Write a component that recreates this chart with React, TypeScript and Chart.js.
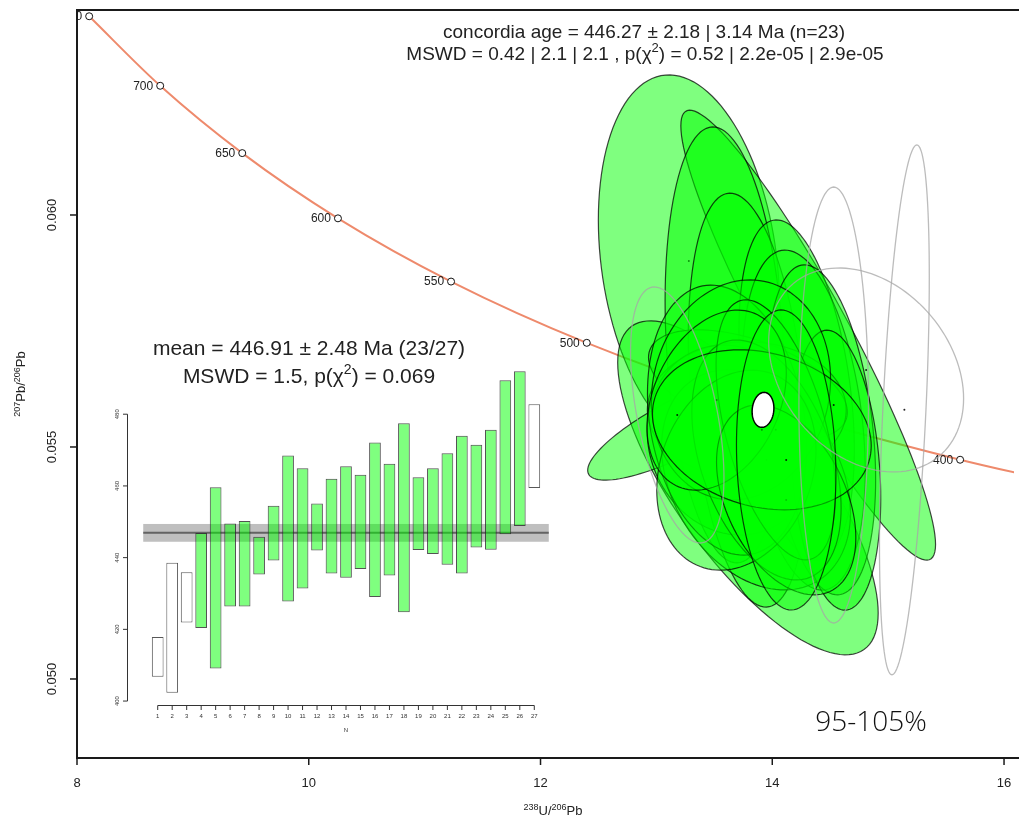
import React, { useEffect, useRef } from 'react';
import { Chart, registerables } from 'chart.js';

Chart.register(...registerables);

const FONT = '"Liberation Sans", Arial, Helvetica, sans-serif';

// ---------- Concordia curve (Tera-Wasserburg) ----------
const concAgesMa = [750, 700, 650, 600, 550, 500, 450, 400, 375];
const concU238Pb206 = [8.105, 8.718, 9.426, 10.252, 11.228, 12.399, 13.831, 15.621, 16.695];
const concPb207Pb206 = [0.064283, 0.062785, 0.061334, 0.059928, 0.058565, 0.057245, 0.055965, 0.054725, 0.054119];
const markerAgesMa = [750, 700, 650, 600, 550, 500, 450, 400];

const xTickValues = [8, 10, 12, 14, 16];
const yTickValues = [0.05, 0.055, 0.06];
const yTickLabels = ['0.050', '0.055', '0.060'];

// ---------- Error ellipses: centre, half-widths, correlation ----------
const ellX = [13.28, 14.31, 13.79, 13.24, 13.59, 13.79, 14.21, 14.27, 14.42, 13.79, 13.78, 13.65, 13.86, 14.55, 13.61, 13.73, 13.95, 13.69, 14.03, 13.52, 14.12, 13.91, 14.12, 15.14, 14.53, 14.81, 13.18];
const ellY = [0.05901, 0.05741, 0.05412, 0.05547, 0.0572, 0.05601, 0.05623, 0.05558, 0.05537, 0.05634, 0.0558, 0.05515, 0.05429, 0.0545, 0.05558, 0.05623, 0.05472, 0.0545, 0.05537, 0.05601, 0.05386, 0.05537, 0.05472, 0.0558, 0.055905, 0.05666, 0.05569];
const ellSX = [0.781, 1.099, 1.124, 0.833, 0.515, 0.515, 0.498, 0.532, 0.472, 0.858, 0.858, 0.73, 0.815, 0.386, 0.687, 0.773, 0.644, 0.687, 0.515, 0.601, 0.601, 0.944, 0.429, 0.215, 0.3, 0.841, 0.403];
const ellSY = [0.004009, 0.004849, 0.003599, 0.001185, 0.004698, 0.004461, 0.003664, 0.003664, 0.003556, 0.001185, 0.001466, 0.002047, 0.002371, 0.003017, 0.002909, 0.002371, 0.002586, 0.002155, 0.002802, 0.00194, 0.002047, 0.001724, 0.003233, 0.005711, 0.004698, 0.002198, 0.002759];
const ellRho = [-0.22, -0.93, -0.75, 0.82, -0.2, -0.3, -0.35, -0.3, -0.3, -0.5, 0.0, -0.1, -0.3, -0.2, -0.2, 0.1, -0.4, 0.2, -0.5, 0.3, -0.4, -0.2, -0.1, 0.5, 0.0, -0.28, -0.49];
const ellAccepted = [1, 1, 1, 1, 1, 1, 1, 1, 1, 1, 1, 1, 1, 1, 1, 1, 1, 1, 1, 1, 1, 1, 1, 0, 0, 0, 0];

// concordia age ellipse
const cAgeX = [13.92];
const cAgeY = [0.0558];
const cAgeSX = [0.094];
const cAgeSY = [0.000377];
const cAgeRho = [0.1];

// ---------- Weighted mean inset ----------
const grainN = [1, 2, 3, 4, 5, 6, 7, 8, 9, 10, 11, 12, 13, 14, 15, 16, 17, 18, 19, 20, 21, 22, 23, 24, 25, 26, 27];
const ageLow = [406.8, 402.3, 421.9, 420.4, 409.1, 426.4, 426.4, 435.3, 439.2, 427.8, 431.4, 442.0, 435.6, 434.4, 436.8, 429.0, 435.0, 424.8, 442.1, 441.0, 438.0, 435.6, 442.8, 442.2, 446.5, 448.8, 459.4];
const ageHigh = [417.9, 438.6, 435.9, 446.9, 459.6, 449.5, 450.2, 445.8, 454.5, 468.5, 464.9, 455.1, 462.0, 465.5, 463.1, 472.1, 466.2, 477.5, 462.4, 464.9, 469.1, 474.0, 471.5, 475.7, 489.5, 492.0, 482.8];
const grainAccepted = [0, 0, 0, 1, 1, 1, 1, 1, 1, 1, 1, 1, 1, 1, 1, 1, 1, 1, 1, 1, 1, 1, 1, 1, 1, 1, 0];
const meanAge = 446.91;
const meanErr = 2.48;
const insetYTicks = [400, 420, 440, 460, 480];

type Seg = { t: string; sup?: boolean };

function drawRich(ctx: CanvasRenderingContext2D, segs: Seg[], x: number, y: number, size: number, color = '#222') {
  const supSize = Math.round(size * 0.68);
  let total = 0;
  const widths = segs.map((s) => {
    ctx.font = `${s.sup ? supSize : size}px ${FONT}`;
    const w = ctx.measureText(s.t).width;
    total += w;
    return w;
  });
  let cx = x - total / 2;
  ctx.textAlign = 'left';
  ctx.textBaseline = 'alphabetic';
  ctx.fillStyle = color;
  segs.forEach((s, i) => {
    ctx.font = `${s.sup ? supSize : size}px ${FONT}`;
    ctx.fillText(s.t, cx, s.sup ? y - size * 0.42 : y);
    cx += widths[i];
  });
}

function ellipsePath(ctx: CanvasRenderingContext2D, xs: any, ys: any, cx: number, cy: number, sx: number, sy: number, rho: number) {
  const q = Math.sqrt(1 - rho * rho);
  ctx.beginPath();
  for (let k = 0; k <= 120; k++) {
    const t = (k / 120) * Math.PI * 2;
    const vx = cx + sx * Math.cos(t);
    const vy = cy + sy * (rho * Math.cos(t) + q * Math.sin(t));
    const px = xs.getPixelForValue(vx);
    const py = ys.getPixelForValue(vy);
    if (k === 0) ctx.moveTo(px, py);
    else ctx.lineTo(px, py);
  }
  ctx.closePath();
}

const mainPlugin = {
  id: 'twPlot',
  afterDatasetsDraw(chart: any) {
    const { ctx, chartArea: ca } = chart;
    const xs = chart.scales.x;
    const ys = chart.scales.y;
    ctx.save();
    ctx.beginPath();
    ctx.rect(ca.left, ca.top, ca.right - ca.left, ca.bottom - ca.top);
    ctx.clip();
    // age labels along concordia
    ctx.fillStyle = '#222';
    ctx.font = `12px ${FONT}`;
    ctx.textAlign = 'right';
    ctx.textBaseline = 'middle';
    markerAgesMa.forEach((a, i) => {
      ctx.fillText(String(a), xs.getPixelForValue(concU238Pb206[i]) - 7, ys.getPixelForValue(concPb207Pb206[i]) + 0.5);
    });
    const dot = (i: number) => {
      ctx.fillStyle = 'rgba(0,0,0,0.85)';
      ctx.beginPath();
      ctx.arc(xs.getPixelForValue(ellX[i]), ys.getPixelForValue(ellY[i]), 1, 0, Math.PI * 2);
      ctx.fill();
    };
    // accepted ellipses
    for (let i = 0; i < ellX.length; i++) {
      if (!ellAccepted[i]) continue;
      ellipsePath(ctx, xs, ys, ellX[i], ellY[i], ellSX[i], ellSY[i], ellRho[i]);
      ctx.fillStyle = 'rgba(0,255,0,0.5)';
      ctx.fill();
      ctx.strokeStyle = 'rgba(0,0,0,0.72)';
      ctx.lineWidth = 1.2;
      ctx.stroke();
      dot(i);
    }
    // rejected ellipses
    for (let i = 0; i < ellX.length; i++) {
      if (ellAccepted[i]) continue;
      ellipsePath(ctx, xs, ys, ellX[i], ellY[i], ellSX[i], ellSY[i], ellRho[i]);
      ctx.strokeStyle = 'rgba(165,165,165,0.75)';
      ctx.lineWidth = 1.3;
      ctx.stroke();
      dot(i);
    }
    // concordia age ellipse
    cAgeX.forEach((cx, i) => {
      ellipsePath(ctx, xs, ys, cx, cAgeY[i], cAgeSX[i], cAgeSY[i], cAgeRho[i]);
      ctx.fillStyle = '#ffffff';
      ctx.fill();
      ctx.strokeStyle = '#000';
      ctx.lineWidth = 1.5;
      ctx.stroke();
    });
    ctx.restore();

    // frame
    ctx.save();
    ctx.strokeStyle = '#1a1a1a';
    ctx.lineWidth = 2;
    ctx.beginPath();
    ctx.moveTo(ca.right + 5, ca.top);
    ctx.lineTo(ca.left, ca.top);
    ctx.lineTo(ca.left, ca.bottom);
    ctx.lineTo(ca.right + 5, ca.bottom);
    ctx.stroke();
    // x ticks
    ctx.lineWidth = 1.5;
    ctx.fillStyle = '#222';
    ctx.font = `13px ${FONT}`;
    ctx.textAlign = 'center';
    ctx.textBaseline = 'middle';
    xTickValues.forEach((v) => {
      const px = xs.getPixelForValue(v);
      ctx.beginPath();
      ctx.moveTo(px, ca.bottom);
      ctx.lineTo(px, ca.bottom + 7);
      ctx.stroke();
      ctx.fillText(String(v), px, ca.bottom + 25);
    });
    // y ticks
    yTickValues.forEach((v, i) => {
      const py = ys.getPixelForValue(v);
      ctx.beginPath();
      ctx.moveTo(ca.left, py);
      ctx.lineTo(ca.left - 7, py);
      ctx.stroke();
      ctx.save();
      ctx.translate(52, py);
      ctx.rotate(-Math.PI / 2);
      ctx.fillText(yTickLabels[i], 0, 0);
      ctx.restore();
    });
    // axis titles
    drawRich(ctx, [{ t: '238', sup: true }, { t: 'U/' }, { t: '206', sup: true }, { t: 'Pb' }], 553, 815, 13);
    ctx.save();
    ctx.translate(25, 384);
    ctx.rotate(-Math.PI / 2);
    drawRich(ctx, [{ t: '207', sup: true }, { t: 'Pb/' }, { t: '206', sup: true }, { t: 'Pb' }], 0, 0, 13);
    ctx.restore();
    // header
    drawRich(ctx, [{ t: 'concordia age = 446.27 \u00b1 2.18 | 3.14 Ma (n=23)' }], 644, 38, 19);
    drawRich(ctx, [{ t: 'MSWD = 0.42 | 2.1 | 2.1 , p(\u03c7' }, { t: '2', sup: true }, { t: ') = 0.52 | 2.2e-05 | 2.9e-05' }], 645, 60, 19);
    // annotation
    ctx.font = '300 28px "Open Sans", sans-serif';
    ctx.fillStyle = '#111';
    ctx.textAlign = 'center';
    ctx.textBaseline = 'middle';
    ctx.fillText('95-105%', 871, 723);
    ctx.restore();
  },
};

const insetPlugin = {
  id: 'wmInset',
  beforeDatasetsDraw(chart: any) {
    const { ctx } = chart;
    const xs = chart.scales.x;
    const ys = chart.scales.y;
    const x0 = xs.getPixelForValue(0);
    const x1 = xs.getPixelForValue(28);
    const yTop = ys.getPixelForValue(meanAge + meanErr);
    const yBot = ys.getPixelForValue(meanAge - meanErr);
    const yMid = ys.getPixelForValue(meanAge);
    ctx.save();
    ctx.fillStyle = 'rgba(128,128,128,0.5)';
    ctx.fillRect(x0, yTop, x1 - x0, yBot - yTop);
    ctx.strokeStyle = 'rgba(60,60,60,0.7)';
    ctx.lineWidth = 2;
    ctx.beginPath();
    ctx.moveTo(x0, yMid);
    ctx.lineTo(x1, yMid);
    ctx.stroke();
    ctx.restore();
  },
  afterDatasetsDraw(chart: any) {
    const { ctx, chartArea: ca } = chart;
    const xs = chart.scales.x;
    const ys = chart.scales.y;
    ctx.save();
    ctx.strokeStyle = '#333';
    ctx.fillStyle = '#333';
    ctx.lineWidth = 1;
    ctx.font = `6px ${FONT}`;
    ctx.textAlign = 'center';
    ctx.textBaseline = 'middle';
    // y axis
    const yA = ys.getPixelForValue(insetYTicks[0]);
    const yB = ys.getPixelForValue(insetYTicks[insetYTicks.length - 1]);
    ctx.beginPath();
    ctx.moveTo(ca.left + 0.5, yA);
    ctx.lineTo(ca.left + 0.5, yB);
    ctx.stroke();
    insetYTicks.forEach((v) => {
      const py = ys.getPixelForValue(v);
      ctx.beginPath();
      ctx.moveTo(ca.left + 0.5, py);
      ctx.lineTo(ca.left - 4, py);
      ctx.stroke();
      ctx.save();
      ctx.translate(ca.left - 10, py);
      ctx.rotate(-Math.PI / 2);
      ctx.fillText(String(v), 0, 0);
      ctx.restore();
    });
    // x axis
    const xA = xs.getPixelForValue(grainN[0]);
    const xB = xs.getPixelForValue(grainN[grainN.length - 1]);
    ctx.beginPath();
    ctx.moveTo(xA, ca.bottom + 0.5);
    ctx.lineTo(xB, ca.bottom + 0.5);
    ctx.stroke();
    grainN.forEach((n) => {
      const px = xs.getPixelForValue(n);
      ctx.beginPath();
      ctx.moveTo(px, ca.bottom + 0.5);
      ctx.lineTo(px, ca.bottom + 5);
      ctx.stroke();
      ctx.fillText(String(n), px, ca.bottom + 11);
    });
    ctx.fillText('N', (xA + xB) / 2, ca.bottom + 25);
    // title
    drawRich(ctx, [{ t: 'mean = 446.91 \u00b1 2.48 Ma (23/27)' }], 209, 25, 21);
    drawRich(ctx, [{ t: 'MSWD = 1.5, p(\u03c7' }, { t: '2', sup: true }, { t: ') = 0.069' }], 209, 53, 21);
    ctx.restore();
  },
};

function MainPlot() {
  const ref = useRef<HTMLCanvasElement>(null);
  useEffect(() => {
    const canvas = ref.current;
    if (!canvas) return;
    const concPts = concAgesMa.map((_, i) => ({ x: concU238Pb206[i], y: concPb207Pb206[i] }));
    const markerPts = markerAgesMa.map((_, i) => ({ x: concU238Pb206[i], y: concPb207Pb206[i] }));
    const chart = new Chart(canvas, {
      type: 'scatter',
      data: {
        datasets: [
          {
            type: 'scatter',
            data: markerPts,
            pointRadius: 3.5,
            pointBackgroundColor: '#ffffff',
            pointBorderColor: '#111',
            pointBorderWidth: 1,
            order: 1,
          } as any,
          {
            type: 'line',
            data: concPts,
            borderColor: '#ee8a6c',
            borderWidth: 2,
            pointRadius: 0,
            cubicInterpolationMode: 'monotone',
            fill: false,
            order: 2,
          } as any,
        ],
      },
      options: {
        responsive: false,
        animation: false,
        events: [],
        layout: { padding: { left: 77, top: 10, right: 0, bottom: 60 } },
        plugins: { legend: { display: false }, tooltip: { enabled: false } },
        scales: {
          x: { type: 'linear', display: false, min: 8, max: 16.086 },
          y: { type: 'linear', display: false, min: 0.048297, max: 0.064418 },
        },
      },
      plugins: [mainPlugin],
    });
    return () => chart.destroy();
  }, []);
  return <canvas ref={ref} width={1019} height={818} style={{ position: 'absolute', left: 0, top: 0 }} />;
}

function InsetPlot() {
  const ref = useRef<HTMLCanvasElement>(null);
  useEffect(() => {
    const canvas = ref.current;
    if (!canvas) return;
    const chart = new Chart(canvas, {
      type: 'bar',
      data: {
        datasets: [
          {
            data: grainN.map((n, i) => ({ x: n, y: [ageLow[i], ageHigh[i]] })),
            backgroundColor: grainAccepted.map((a) => (a ? 'rgba(0,255,0,0.5)' : 'rgba(255,255,255,1)')),
            borderColor: grainAccepted.map((a) => (a ? 'rgba(40,40,40,0.8)' : 'rgba(70,70,70,0.9)')),
            borderWidth: 1,
            borderSkipped: false,
            barPercentage: 0.81,
            categoryPercentage: 1,
          } as any,
        ],
      },
      options: {
        responsive: false,
        animation: false,
        events: [],
        layout: { padding: { left: 27, top: 29, right: 5, bottom: 45 } },
        plugins: { legend: { display: false }, tooltip: { enabled: false } },
        scales: {
          x: { type: 'linear', display: false, min: -1.12, max: 29.12, offset: false },
          y: { type: 'linear', display: false, min: 398.9, max: 495.4 },
        },
      },
      plugins: [insetPlugin],
    });
    return () => chart.destroy();
  }, []);
  return <canvas ref={ref} width={470} height={420} style={{ position: 'absolute', left: 100, top: 330 }} />;
}

export default function App() {
  return (
    <div style={{ position: 'fixed', left: 0, top: 0, width: 1019, height: 818, background: '#ffffff', overflow: 'hidden' }}>
      <MainPlot />
      <InsetPlot />
    </div>
  );
}
